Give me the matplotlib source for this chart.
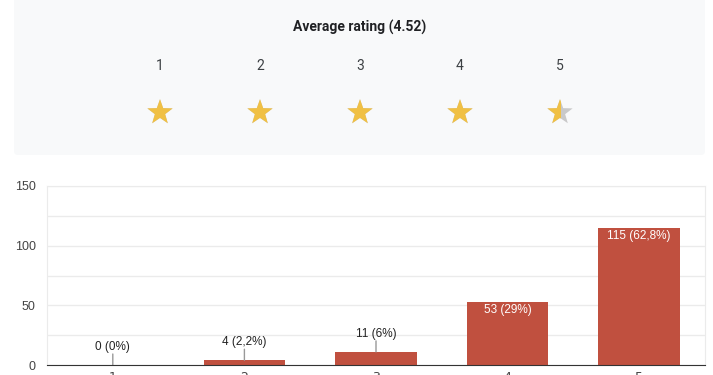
import numpy as np
import matplotlib.pyplot as plt
from matplotlib.patches import FancyBboxPatch, Polygon, Rectangle

# data
ratings = [1, 2, 3, 4, 5]
counts = [0, 4, 11, 53, 115]
pct_labels = ["0%", "2,2%", "6%", "29%", "62,8%"]
average = 4.52

BAR = "#c0503f"
GOLD = "#f0c044"
GREY = "#c9c9c9"

W, H = 713, 375
fig = plt.figure(figsize=(W / 100, H / 100), dpi=100)
fig.patch.set_facecolor("white")

# top panel in pixel coordinates
top = fig.add_axes([0, 0, 1, 1])
top.set_xlim(0, W)
top.set_ylim(H, 0)
top.axis("off")
top.add_patch(FancyBboxPatch((14, -10), 691, 165, boxstyle="round,pad=0,rounding_size=4",
                             fc="#f8f9fa", ec="none"))
top.text(360, 27, f"Average rating ({average})", ha="center", va="center",
         fontsize=10, fontweight="bold", family="Roboto", color="#202124")


def star_pts(cx, cy, R=13.3, r=5.4):
    ang = np.pi / 2 + np.arange(10) * np.pi / 5
    rad = np.where(np.arange(10) % 2 == 0, R, r)
    return np.column_stack([cx + rad * np.cos(ang), cy - rad * np.sin(ang)])


for i, r in enumerate(ratings):
    cx = 160 + i * 100
    top.text(cx, 66, str(r), ha="center", va="center", fontsize=10,
             family="Roboto", color="#3c4043")
    frac = min(max(average - (r - 1), 0), 1)
    pts = star_pts(cx, 112.5)
    top.add_patch(Polygon(pts, closed=True, fc=GREY, ec="none"))
    gold = Polygon(pts, closed=True, fc=GOLD, ec="none")
    top.add_patch(gold)
    clip = Rectangle((cx - 14, 95), 28 * frac, 35, transform=top.transData)
    gold.set_clip_path(clip)

# bar chart
ax = fig.add_axes([47 / W, 10 / H, 658 / W, 179 / H])
x = np.arange(len(ratings))
ax.bar(x, counts, width=0.62, color=BAR, zorder=3)
ax.set_xlim(-0.5, len(ratings) - 0.5)
ax.set_ylim(0, 150)
ax.set_yticks([0, 50, 100, 150])
ax.set_yticks([25, 75, 125], minor=True)
ax.grid(True, axis="y", which="both", color="#ebebeb", lw=1, zorder=0)
ax.tick_params(axis="y", which="both", length=0, labelsize=9, labelcolor="#444444", pad=8)
ax.set_xticks(x)
ax.set_xticklabels([str(r) for r in ratings])
ax.tick_params(axis="x", length=0, labelsize=9, labelcolor="#444444", pad=4)
for s in ["left", "top", "right"]:
    ax.spines[s].set_color("#ebebeb")
ax.spines["bottom"].set_color("#333333")
ax.spines["bottom"].set_zorder(4)
for lab in ax.get_yticklabels():
    lab.set_family("Liberation Sans")

for xi, c, p in zip(x, counts, pct_labels):
    txt = f"{c} ({p})"
    if c < 30:
        ax.annotate("", xy=(xi, c), xytext=(0, 11), textcoords="offset pixels",
                    arrowprops=dict(arrowstyle="-", color="#999999", lw=1,
                                    shrinkA=0, shrinkB=0))
        ax.annotate(txt, xy=(xi, c), xytext=(0, 18), textcoords="offset pixels",
                    ha="center", va="center", fontsize=8.5, family="Liberation Sans",
                    color="#222222")
    else:
        ax.annotate(txt, xy=(xi, c), xytext=(0, -8), textcoords="offset pixels",
                    ha="center", va="center", fontsize=8.5, family="Liberation Sans",
                    color="white")

fig.savefig("out.png", dpi=100)
